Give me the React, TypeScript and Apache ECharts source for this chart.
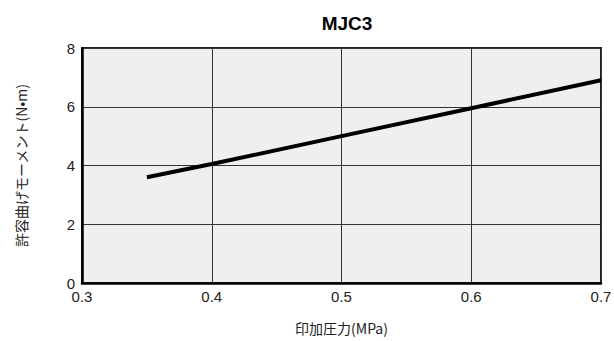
import React, { useEffect, useRef } from "react";
import * as echarts from "echarts";

const pressure = [0.35, 0.4, 0.5, 0.6, 0.7];
const moment = [3.6, 4.05, 5.0, 5.95, 6.9];
const titleText = "MJC3";
const xName = "印加圧力(MPa)";
const yName = "許容曲げモーメント(N•m)";

const FONT = "'Liberation Sans', 'Noto Sans CJK JP', sans-serif";
const CJK = "'Noto Sans CJK JP', sans-serif";

export default function App() {
  const ref = useRef<HTMLDivElement>(null);
  useEffect(() => {
    const chart = echarts.init(ref.current!, null, { renderer: "svg" });
    chart.setOption({
      animation: false,
      backgroundColor: "#ffffff",
      title: {
        text: titleText,
        left: 342,
        textAlign: "center",
        top: 9,
        textStyle: { fontFamily: FONT, fontWeight: "bold", fontSize: 19, color: "#000" },
      },
      grid: {
        left: 82,
        right: 13,
        top: 48,
        bottom: 58,
        containLabel: false,
        outerBoundsMode: "none",
        show: true,
        backgroundColor: "#efefef",
        borderColor: "#222",
        borderWidth: 2,
      },
      xAxis: {
        type: "value",
        min: 0.3,
        max: 0.7,
        interval: 0.1,
        name: xName,
        nameLocation: "middle",
        nameGap: 38,
        nameTextStyle: { fontFamily: CJK, fontSize: 14, color: "#222" },
        axisLine: { show: true, lineStyle: { color: "#000", width: 2.5 } },
        axisTick: { show: false },
        axisLabel: {
          fontFamily: FONT,
          fontSize: 15,
          color: "#222",
          margin: 6,
          formatter: (v: number) => v.toFixed(1),
        },
        splitLine: { show: true, lineStyle: { color: "#333", width: 1 } },
      },
      yAxis: {
        type: "value",
        min: 0,
        max: 8,
        interval: 2,
        name: yName,
        nameLocation: "middle",
        nameGap: 54,
        nameRotate: 90,
        nameTextStyle: { fontFamily: CJK, fontSize: 14, color: "#222" },
        axisLine: { show: true, lineStyle: { color: "#000", width: 2.5 } },
        axisTick: { show: false },
        axisLabel: { fontFamily: FONT, fontSize: 15, color: "#222", margin: 7 },
        splitLine: { show: true, lineStyle: { color: "#333", width: 1 } },
      },
      series: [
        {
          type: "line",
          data: pressure.map((p, i) => [p, moment[i]]),
          symbol: "none",
          lineStyle: { color: "#000", width: 4 },
        },
      ],
    });
    return () => chart.dispose();
  }, []);
  return <div ref={ref} style={{ width: 614, height: 341, position: "absolute", left: 0, top: 0 }} />;
}
